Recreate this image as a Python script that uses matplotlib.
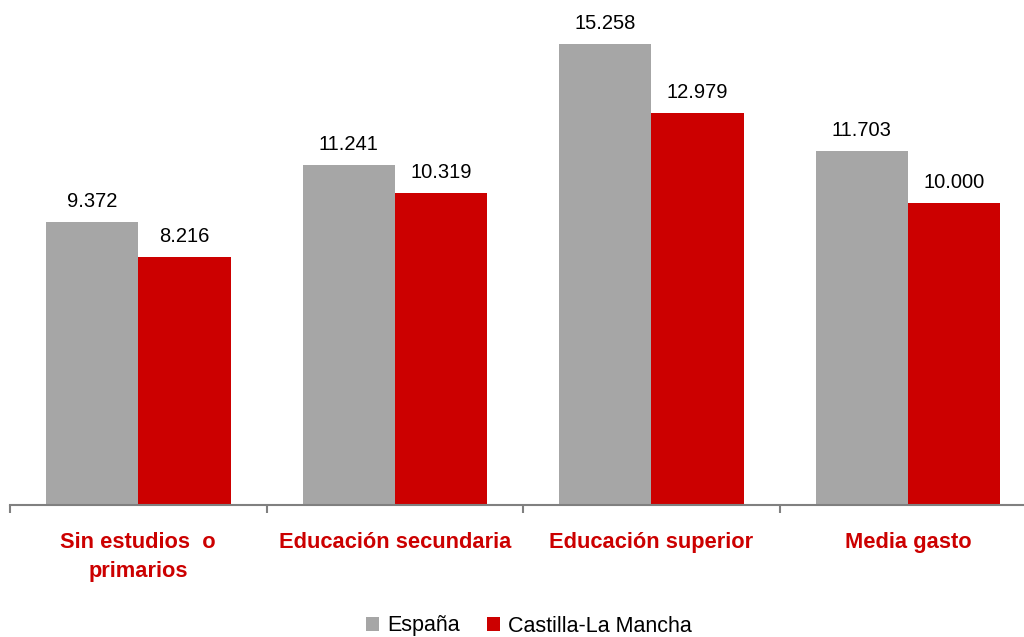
import numpy as np
import matplotlib.pyplot as plt

plt.rcParams['font.family'] = ['Liberation Sans', 'DejaVu Sans']

categories = ['Sin estudios  o\nprimarios', 'Educación secundaria', 'Educación superior', 'Media gasto']
espana = [9372, 11241, 15258, 11703]
clm = [8216, 10319, 12979, 10000]
series_names = ['España', 'Castilla-La Mancha']

gray = '#A6A6A6'
red = '#CC0000'

fig = plt.figure(figsize=(10.24, 6.37), dpi=100)
ax = fig.add_axes([10 / 1024, 1 - 505 / 637, 1014 / 1024, 500 / 637])

x = np.arange(len(categories))
w = 0.36
b1 = ax.bar(x - w / 2, espana, w, color=gray, label=series_names[0])
b2 = ax.bar(x + w / 2, clm, w, color=red, label=series_names[1])

def fmt(v):
    return f'{v:,}'.replace(',', '.')

for bars, vals in ((b1, espana), (b2, clm)):
    for r, v in zip(bars, vals):
        ax.annotate(fmt(v), (r.get_x() + r.get_width() / 2, v), xytext=(0, 8),
                    textcoords='offset points', ha='center', va='bottom', fontsize=14.5)

ax.set_xlim(-0.5, 3.452)
ax.set_ylim(0, 16550)
ax.set_yticks([])
for s in ('top', 'right', 'left'):
    ax.spines[s].set_visible(False)
ax.spines['bottom'].set_color('#808080')
ax.spines['bottom'].set_linewidth(1.5)

ax.set_xticks([-0.5, 0.5, 1.5, 2.5])
ax.set_xticklabels([])
ax.tick_params(axis='x', direction='out', length=6, width=1.5, color='#808080')

for xi, lab in zip(x, categories):
    ax.text(xi, -900, lab, ha='center', va='top', fontsize=15.75,
            fontweight='bold', color=red, linespacing=1.5)

leg = ax.legend(loc='center', bbox_to_anchor=(529 / 1024, 1 - 626 / 637),
                bbox_transform=fig.transFigure, ncol=2, frameon=False, fontsize=15.5,
                handlelength=0.6, handleheight=0.6, handletextpad=0.37, columnspacing=1.25)

fig.savefig('out.png', dpi=100)
